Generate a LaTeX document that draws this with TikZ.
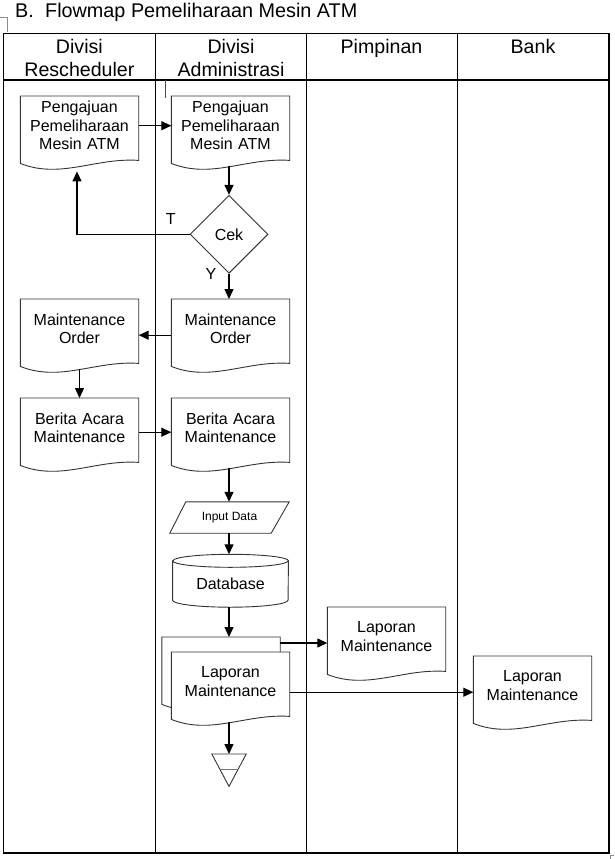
\documentclass[tikz,border=0pt]{standalone}
\usepackage{fontspec}
\setmainfont{Liberation Sans}
\usetikzlibrary{arrows.meta,calc,shapes.geometric,backgrounds}
\newcommand\docoutline[1]{%
  \begin{pgfonlayer}{background}
  \draw[shp] (#1.north west) -- (#1.north east) -- ($(#1.south east)+(0,5)$)
    .. controls ($(#1.south west)+(75,2)$) and ($(#1.south west)+(40,24)$) .. ($(#1.south west)+(0,8)$) -- cycle;
  \end{pgfonlayer}}
\begin{document}
\begin{tikzpicture}[x=1pt,y=-1pt,
  tbl/.style={line width=1.3pt,draw=black},
  shp/.style={draw=black!80,line width=0.9pt,fill=white},
  arr/.style={draw=black,line width=1.3pt,-{Triangle[length=10pt,width=9pt]}},
  body/.style={font=\fontsize{16}{18.5}\selectfont,align=center,inner sep=0pt},
  hdr/.style={font=\fontsize{19.6}{22.7}\selectfont,align=center,inner sep=0pt},
  docbox/.style={body,minimum width=118pt,minimum height=59pt,text width=116pt,anchor=north},
  faint/.style={draw=black!45,line width=0.6pt}
]
\useasboundingbox (0,0) rectangle (614,859);
% corner marks
\draw[faint] (0,17) -- (7.5,17) -- (7.5,32);
\draw[faint] (614,855.5) -- (610,855.5) -- (610,859);
% title
\node[font=\fontsize{19.8}{22}\selectfont,anchor=base west,inner sep=0pt] (title) at (15,17.5) {B.\hspace{11.3pt}Flowmap Pemeliharaan Mesin ATM};
% table
\draw[tbl] (3.3,33.3) rectangle (609,853);
\draw[tbl] (3.3,80) -- (609,80);
\foreach \x in {155.5,306.5,457.5} \draw[tbl] (\x,33.3) -- (\x,853);
\draw[draw=black!70,line width=0.7pt] (165.5,80) -- (165.5,98);
% headers
\node[hdr,anchor=north] (h1) at (79.4,39) {Divisi\\Rescheduler};
\node[hdr,anchor=north] (h2) at (231,39) {Divisi\\Administrasi};
\node[hdr,anchor=north] (h3) at (381.5,39) {Pimpinan};
\node[hdr,anchor=north] (h4) at (533,39) {Bank};
% documents
\node[docbox] (d1) at (79.5,96) {Pengajuan\\Pemeliharaan\\Mesin ATM}; \docoutline{d1}
\node[docbox] (d2) at (230.5,96) {Pengajuan\\Pemeliharaan\\Mesin ATM}; \docoutline{d2}
\node[diamond,shp,body,minimum width=78pt,minimum height=78pt] (ck) at (229,234.3) {Cek};
\node[body] (lt) at (170.7,219) {T};
\node[body] (ly) at (211,273.5) {Y};
\node[docbox] (mo1) at (79.5,299) {Maintenance\\Order}; \docoutline{mo1}
\node[docbox] (mo2) at (230.5,299) {Maintenance\\Order}; \docoutline{mo2}
\node[docbox] (ba1) at (79.5,398) {Berita Acara\\Maintenance}; \docoutline{ba1}
\node[docbox] (ba2) at (230.5,398) {Berita Acara\\Maintenance}; \docoutline{ba2}
% input data
\node[body,font=\fontsize{12}{14}\selectfont,minimum width=119pt,minimum height=31pt] (inp) at (229.5,517.5) {Input Data};
\begin{pgfonlayer}{background}
\draw[shp] ($(inp.north west)+(16,0)$) -- (inp.north east) -- ($(inp.south east)+(-18,0)$) -- (inp.south west) -- cycle;
\end{pgfonlayer}
% database
\node[body,minimum width=115.5pt,minimum height=46pt] (db) at (230.5,584) {Database};
\begin{pgfonlayer}{background}
\draw[shp] (db.north west) -- ($(db.south west)+(0,-7)$) arc[start angle=180,end angle=0,x radius=57.75,y radius=7] -- (db.north east) arc[start angle=0,end angle=-180,x radius=57.75,y radius=6.5] -- cycle;
\draw[shp,fill=none] (db.north west) arc[start angle=180,end angle=0,x radius=57.75,y radius=6.5];
\end{pgfonlayer}
% multi document
\node[docbox] (mb) at (221,637) {}; \docoutline{mb}
\node[docbox] (mf) at (230.5,652) {Laporan\\Maintenance}; \docoutline{mf}
\node[docbox] (pim) at (386.5,607) {Laporan\\Maintenance}; \docoutline{pim}
\node[docbox] (bank) at (532.5,656) {Laporan\\Maintenance}; \docoutline{bank}
% archive
\node[minimum width=34pt,minimum height=32pt,inner sep=0pt,anchor=north] (arch) at (229,754) {};
\begin{pgfonlayer}{background}
\draw[shp] (arch.north west) -- (arch.north east) -- (arch.south) -- cycle;
\draw[draw=black!55,line width=0.9pt] ($(arch.north west)!0.47!(arch.south)$) -- ($(arch.north east)!0.47!(arch.south)$);
\end{pgfonlayer}
% connectors
\draw[arr] (d1.east) -- (d2.west);
\draw[arr] ($(d2.south)+(-1.5,11)$) -- (ck.north);
\draw[arr] (ck.west) -| ($(d1.south)+(-2.5,16)$);
\draw[arr] (ck.south) -- (ck.south |- mo2.north);
\draw[arr] ($(mo2.west)+(0,6.5)$) -- ($(mo1.east)+(0,6.5)$);
\draw[arr] ($(mo1.south)+(0,11)$) -- (ba1.north);
\draw[arr] ($(ba1.east)+(0,4.5)$) -- ($(ba2.west)+(0,4.5)$);
\draw[arr] ($(ba2.south)+(-1.5,11)$) -- ($(inp.north)+(-0.5,0)$);
\draw[arr] (inp.south -| ck.south) -- ($(db.north -| ck.south)+(0,-6.5)$);
\draw[arr] (db.south -| ck.south) -- (ck.south |- mb.north);
\draw[arr] ($(mb.north east)+(0,6)$) coordinate (m1) -- (m1 -| pim.west);
\draw[arr] ($(mf.east)+(0,10.5)$) coordinate (m2) -- (m2 -| bank.west);
\draw[arr] ($(mf.south)+(-1.5,11)$) -- (arch.north);
\end{tikzpicture}
\end{document}
